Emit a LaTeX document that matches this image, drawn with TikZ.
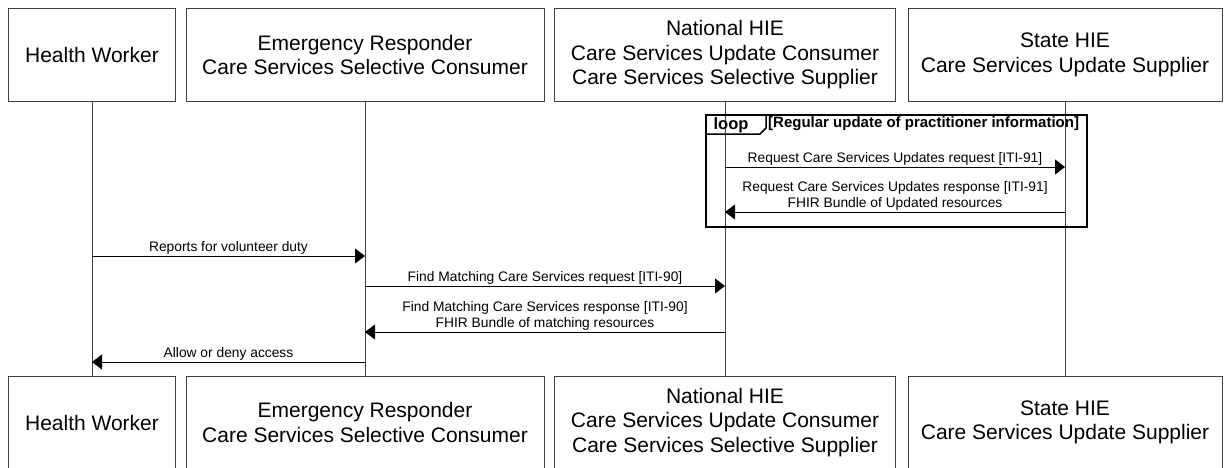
\documentclass[tikz,border=0pt]{standalone}
\usepackage{fontspec}
\setmainfont{Liberation Sans}
\usetikzlibrary{arrows.meta}

\begin{document}
\begin{tikzpicture}[x=1pt,y=-1pt,
    actor/.style={draw=black!75,line width=1pt,fill=white,minimum height=93pt,inner sep=0pt,align=center,font=\fontsize{21}{24.5}\selectfont},
    lifeline/.style={draw=black!75,line width=1pt},
    msg/.style={line width=1pt,-{Triangle[length=10pt,width=15pt]}},
    msglabel/.style={midway,above=1.5pt,inner sep=0pt,align=center,font=\fontsize{13.8}{16}\selectfont},
    loopframe/.style={line width=2pt}]
        \useasboundingbox (0,0) rectangle (1225,468);
        % participants, top row
        \node[actor,minimum width=167pt] (hw) at (92,55) {Health Worker};
        \node[actor,minimum width=358pt] (er) at (365,55) {Emergency Responder\\Care Services Selective Consumer};
        \node[actor,minimum width=341pt] (nat) at (725,55) {National HIE\\Care Services Update Consumer\\Care Services Selective Supplier};
        \node[actor,minimum width=314pt] (st) at (1065,55) {State HIE\\Care Services Update Supplier};
        % participants, bottom row
        \node[actor,minimum width=167pt] (hwB) at (92,422.5) {Health Worker};
        \node[actor,minimum width=358pt] (erB) at (365,422.5) {Emergency Responder\\Care Services Selective Consumer};
        \node[actor,minimum width=341pt] (natB) at (725,422.5) {National HIE\\Care Services Update Consumer\\Care Services Selective Supplier};
        \node[actor,minimum width=314pt] (stB) at (1065,422.5) {State HIE\\Care Services Update Supplier};
        \draw[lifeline] (hw.south) -- (hwB.north);
        \draw[lifeline] (er.south) -- (erB.north);
        \draw[lifeline] (nat.south) -- (natB.north);
        \draw[lifeline] (st.south) -- (stB.north);
        % loop fragment
        \draw[loopframe] (706,115) rectangle (1087,227);
        \draw[line width=1.5pt] (706,134) -- (760,134) -- (766,128) -- (766,115);
        \node[inner sep=0pt,font=\bfseries\fontsize{16.5}{18}\selectfont] (looptag) at (731,125) {loop};
        \node[inner sep=0pt,anchor=west,font=\bfseries\fontsize{15}{17}\selectfont] (loopcond) at (768,124) {[Regular update of practitioner information]};
        % message rows
        \coordinate (r1) at (0,167);
        \coordinate (r2) at (0,212);
        \coordinate (r3) at (0,256);
        \coordinate (r4) at (0,286);
        \coordinate (r5) at (0,332);
        \coordinate (r6) at (0,362);
        \draw[msg] (nat.south |- r1) -- (st.south |- r1) node[msglabel] {Request Care Services Updates request [ITI-91]};
        \draw[msg] (st.south |- r2) -- (nat.south |- r2) node[msglabel] {Request Care Services Updates response [ITI-91]\\FHIR Bundle of Updated resources};
        \draw[msg] (hw.south |- r3) -- (er.south |- r3) node[msglabel] {Reports for volunteer duty};
        \draw[msg] (er.south |- r4) -- (nat.south |- r4) node[msglabel] {Find Matching Care Services request [ITI-90]};
        \draw[msg] (nat.south |- r5) -- (er.south |- r5) node[msglabel] {Find Matching Care Services response [ITI-90]\\FHIR Bundle of matching resources};
        \draw[msg] (er.south |- r6) -- (hw.south |- r6) node[msglabel] {Allow or deny access};
    \end{tikzpicture}
\end{document}
